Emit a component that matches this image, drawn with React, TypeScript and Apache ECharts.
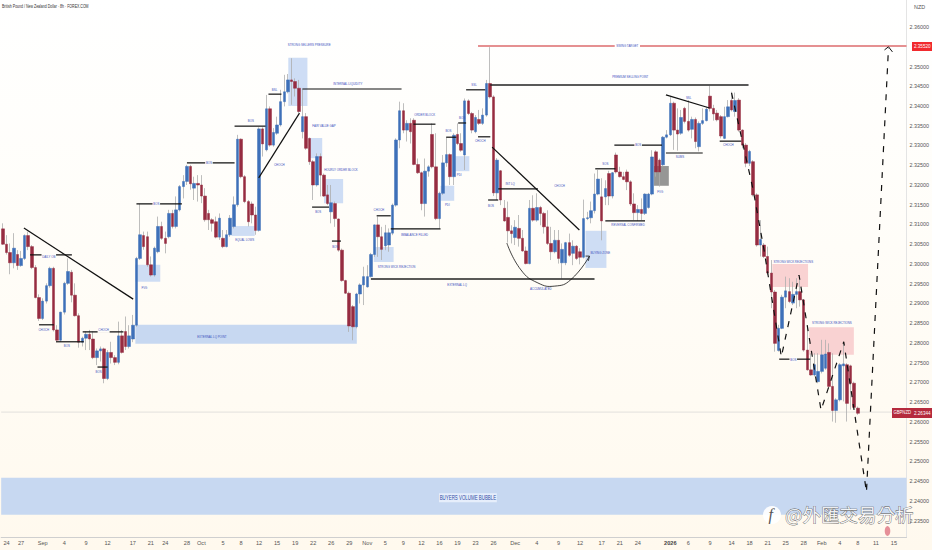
import React, { useEffect, useRef } from "react";
import * as echarts from "echarts";

const FONT = '"Liberation Sans Narrow","Liberation Sans",sans-serif';
const SLOT_COUNT = 251;

// [open, close, low, high], one step per slot
const candles: number[][] = [
[2.3089,2.3050,2.3048,2.3103],[2.3050,2.3029,2.3024,2.3073],[2.3029,2.3003,2.2974,2.3052],[2.3003,2.3040,2.2989,2.3078],
[2.3024,2.2996,2.2985,2.3035],[2.2996,2.3014,2.2993,2.3033],[2.3014,2.3072,2.3010,2.3075],[2.3072,2.3044,2.3035,2.3082],
[2.3044,2.2991,2.2987,2.3048],[2.2991,2.2915,2.2913,2.2997],[2.2915,2.2862,2.2856,2.2923],[2.2862,2.2906,2.2858,2.2913],
[2.2906,2.2945,2.2900,2.2951],[2.2945,2.2989,2.2940,2.2993],[2.2989,2.2833,2.2829,2.2993],[2.2833,2.2807,2.2805,2.2845],
[2.2807,2.2878,2.2803,2.2879],[2.2878,2.2951,2.2872,2.2955],[2.2951,2.2981,2.2947,2.3014],[2.2979,2.2921,2.2903,2.2985],
[2.2921,2.2869,2.2867,2.2951],[2.2869,2.2802,2.2788,2.2875],[2.2802,2.2812,2.2791,2.2816],[2.2812,2.2822,2.2782,2.2829],
[2.2822,2.2810,2.2782,2.2833],[2.2810,2.2763,2.2759,2.2829],[2.2763,2.2780,2.2744,2.2786],[2.2780,2.2785,2.2753,2.2791],
[2.2785,2.2710,2.2698,2.2788],[2.2710,2.2776,2.2706,2.2782],[2.2776,2.2763,2.2748,2.2803],[2.2763,2.2751,2.2744,2.2769],
[2.2751,2.2818,2.2746,2.2854],[2.2818,2.2776,2.2773,2.2833],[2.2829,2.2791,2.2782,2.2867],[2.2791,2.2818,2.2786,2.2845],
[2.2810,2.2845,2.2802,2.2871],[2.2845,2.3014,2.2841,2.3018],[2.3014,2.3074,2.3010,2.3152],[2.3072,2.3044,2.3036,2.3082],
[2.3069,2.2998,2.2993,2.3082],[2.2998,2.2972,2.2968,2.3019],[2.2972,2.3040,2.2968,2.3044],[2.3031,2.3095,2.3027,2.3120],
[2.3095,2.3065,2.3061,2.3107],[2.3065,2.3052,2.3027,2.3082],[2.3069,2.3128,2.3065,2.3137],[2.3128,2.3095,2.3090,2.3137],
[2.3095,2.3137,2.3090,2.3171],[2.3137,2.3196,2.3133,2.3200],[2.3196,2.3209,2.3166,2.3225],[2.3209,2.3247,2.3200,2.3251],
[2.3247,2.3203,2.3188,2.3251],[2.3192,2.3204,2.3162,2.3221],[2.3204,2.3200,2.3158,2.3225],[2.3200,2.3172,2.3154,2.3225],
[2.3172,2.3112,2.3107,2.3192],[2.3128,2.3112,2.3086,2.3137],[2.3112,2.3103,2.3082,2.3116],[2.3107,2.3068,2.3065,2.3120],
[2.3068,2.3116,2.3061,2.3128],[2.3065,2.3044,2.3040,2.3086],[2.3044,2.3074,2.3042,2.3086],[2.3074,2.3116,2.3069,2.3124],
[2.3095,2.3150,2.3090,2.3171],[2.3150,2.3316,2.3145,2.3327],[2.3316,2.3221,2.3217,2.3318],[2.3221,2.3158,2.3154,2.3225],
[2.3158,2.3107,2.3095,2.3162],[2.3152,2.3124,2.3103,2.3158],[2.3124,2.3085,2.3074,2.3145],[2.3085,2.3342,2.3082,2.3346],
[2.3342,2.3304,2.3272,2.3346],[2.3289,2.3393,2.3285,2.3428],[2.3393,2.3301,2.3297,2.3399],[2.3301,2.3333,2.3297,2.3344],
[2.3331,2.3352,2.3327,2.3373],[2.3352,2.3411,2.3348,2.3441],[2.3411,2.3436,2.3399,2.3479],[2.3436,2.3466,2.3432,2.3481],
[2.3466,2.3462,2.3403,2.3521],[2.3462,2.3445,2.3424,2.3470],[2.3445,2.3386,2.3382,2.3466],[2.3335,2.3373,2.3318,2.3442],
[2.3373,2.3293,2.3289,2.3382],[2.3318,2.3259,2.3251,2.3320],[2.3259,2.3200,2.3162,2.3263],[2.3200,2.3272,2.3196,2.3280],
[2.3272,2.3225,2.3171,2.3280],[2.3225,2.3172,2.3170,2.3229],[2.3175,2.3153,2.3149,2.3200],[2.3132,2.3155,2.3103,2.3200],
[2.3153,2.3115,2.3094,2.3158],[2.3114,2.3035,2.3031,2.3115],[2.3035,2.2958,2.2955,2.3039],[2.2958,2.2926,2.2924,2.2960],
[2.2926,2.2843,2.2828,2.2930],[2.2892,2.2841,2.2807,2.2896],[2.2841,2.2924,2.2837,2.2927],[2.2924,2.2947,2.2900,2.2951],
[2.2947,2.2968,2.2896,2.2993],[2.2942,2.2968,2.2940,2.2997],[2.2968,2.3024,2.2966,2.3028],[2.3024,2.3099,2.3018,2.3100],
[2.3099,2.3069,2.3018,2.3120],[2.3069,2.3037,2.3010,2.3094],[2.3046,2.3079,2.3035,2.3099],[2.3048,2.3079,2.3031,2.3090],
[2.3078,2.3149,2.3073,2.3153],[2.3149,2.3314,2.3145,2.3318],[2.3314,2.3388,2.3293,2.3411],[2.3388,2.3339,2.3331,2.3407],
[2.3339,2.3356,2.3310,2.3364],[2.3356,2.3335,2.3305,2.3369],[2.3364,2.3252,2.3250,2.3369],[2.3252,2.3231,2.3228,2.3267],
[2.3231,2.3153,2.3136,2.3234],[2.3153,2.3235,2.3120,2.3267],[2.3235,2.3246,2.3221,2.3250],[2.3328,2.3246,2.3242,2.3356],
[2.3246,2.3115,2.3111,2.3331],[2.3115,2.3179,2.3090,2.3183],[2.3179,2.3256,2.3175,2.3276],[2.3256,2.3277,2.3246,2.3322],
[2.3277,2.3221,2.3200,2.3280],[2.3221,2.3326,2.3200,2.3331],[2.3328,2.3305,2.3301,2.3356],[2.3305,2.3288,2.3284,2.3331],
[2.3276,2.3413,2.3238,2.3419],[2.3413,2.3381,2.3377,2.3417],[2.3381,2.3339,2.3331,2.3385],[2.3335,2.3371,2.3331,2.3377],
[2.3366,2.3356,2.3352,2.3390],[2.3356,2.3377,2.3352,2.3394],[2.3377,2.3457,2.3373,2.3466],[2.3457,2.3423,2.3419,2.3549],
[2.3423,2.3180,2.3172,2.3427],[2.3180,2.3263,2.3162,2.3268],[2.3236,2.3162,2.3149,2.3238],[2.3141,2.3109,2.3107,2.3162],
[2.3118,2.3084,2.3054,2.3158],[2.3084,2.3077,2.3052,2.3098],[2.3067,2.3093,2.3048,2.3111],[2.3090,2.3065,2.3044,2.3124],
[2.3065,2.3033,2.3031,2.3086],[2.3033,2.3001,2.2999,2.3044],[2.3001,2.3141,2.2999,2.3162],[2.3141,2.3111,2.3107,2.3174],
[2.3111,2.3143,2.3107,2.3179],[2.3143,2.3128,2.3098,2.3147],[2.3128,2.3094,2.3077,2.3132],[2.3094,2.3052,2.3048,2.3136],
[2.3052,2.3031,2.3010,2.3094],[2.3031,2.3060,2.3027,2.3086],[2.3060,2.3014,2.3001,2.3086],[2.3003,2.3037,2.2963,2.3052],
[2.3003,2.3054,2.2997,2.3056],[2.3054,2.3022,2.3018,2.3077],[2.3027,2.3045,2.2997,2.3060],[2.3045,2.3014,2.3010,2.3048],
[2.3031,2.3017,2.2999,2.3040],[2.3017,2.3115,2.3014,2.3163],[2.3115,2.3117,2.3111,2.3132],[2.3117,2.3135,2.3103,2.3158],
[2.3135,2.3177,2.3128,2.3229],[2.3177,2.3215,2.3174,2.3238],[2.3170,2.3109,2.3060,2.3217],[2.3170,2.3191,2.3149,2.3212],
[2.3229,2.3172,2.3149,2.3236],[2.3172,2.3231,2.3166,2.3233],[2.3276,2.3233,2.3229,2.3282],[2.3233,2.3221,2.3219,2.3246],
[2.3221,2.3214,2.3212,2.3233],[2.3233,2.3208,2.3187,2.3239],[2.3208,2.3152,2.3147,2.3212],[2.3152,2.3130,2.3111,2.3179],
[2.3130,2.3138,2.3109,2.3149],[2.3138,2.3128,2.3111,2.3166],[2.3128,2.3177,2.3124,2.3179],[2.3143,2.3177,2.3140,2.3180],
[2.3177,2.3271,2.3174,2.3288],[2.3284,2.3233,2.3221,2.3288],[2.3263,2.3233,2.3196,2.3267],[2.3251,2.3321,2.3247,2.3324],
[2.3321,2.3327,2.3318,2.3339],[2.3327,2.3407,2.3324,2.3424],[2.3407,2.3339,2.3289,2.3411],[2.3339,2.3329,2.3287,2.3394],
[2.3331,2.3371,2.3327,2.3390],[2.3394,2.3361,2.3356,2.3398],[2.3361,2.3339,2.3335,2.3415],[2.3341,2.3366,2.3318,2.3373],
[2.3366,2.3310,2.3293,2.3371],[2.3297,2.3356,2.3285,2.3361],[2.3356,2.3363,2.3352,2.3394],[2.3363,2.3392,2.3361,2.3398],
[2.3425,2.3394,2.3386,2.3451],[2.3394,2.3380,2.3363,2.3403],[2.3382,2.3365,2.3361,2.3390],[2.3373,2.3324,2.3318,2.3377],
[2.3318,2.3373,2.3316,2.3398],[2.3373,2.3398,2.3371,2.3415],[2.3414,2.3390,2.3386,2.3436],[2.3386,2.3414,2.3373,2.3434],
[2.3415,2.3339,2.3335,2.3420],[2.3339,2.3301,2.3293,2.3341],[2.3301,2.3255,2.3245,2.3306],[2.3255,2.3285,2.3248,2.3289],
[2.3259,2.3175,2.3171,2.3263],[2.3175,2.3048,2.3044,2.3179],[2.3048,2.3062,2.3019,2.3111],[2.3048,2.3019,2.3015,2.3053],
[2.3019,2.2977,2.2972,2.3044],[2.2977,2.2929,2.2888,2.3010],[2.2929,2.2799,2.2778,2.2934],[2.2781,2.2837,2.2778,2.2846],
[2.2837,2.2916,2.2835,2.2922],[2.2916,2.2932,2.2888,2.2968],[2.2930,2.2905,2.2901,2.2964],[2.2901,2.2923,2.2896,2.2955],
[2.2923,2.2930,2.2888,2.2964],[2.2930,2.2909,2.2892,2.2960],[2.2909,2.2782,2.2778,2.2911],[2.2782,2.2732,2.2730,2.2840],
[2.2732,2.2719,2.2717,2.2774],[2.2719,2.2745,2.2715,2.2774],[2.2702,2.2728,2.2698,2.2774],[2.2728,2.2770,2.2723,2.2808],
[2.2736,2.2772,2.2732,2.2808],[2.2776,2.2690,2.2685,2.2799],[2.2690,2.2629,2.2601,2.2774],[2.2629,2.2656,2.2598,2.2660],
[2.2656,2.2745,2.2652,2.2749],[2.2742,2.2747,2.2652,2.2799],[2.2745,2.2647,2.2601,2.2749],[2.2742,2.2698,2.2631,2.2745],
[2.2698,2.2637,2.2635,2.2702],[2.2635,2.2622,2.2618,2.2639],
];

// slot index → date label on the time axis
const timeLabels: [number, string][] = [
[1,"24"],[5,"27"],[11,"Sep"],[17,"4"],[23,"9"],[29,"12"],[36,"17"],[41,"21"],[45,"24"],[51,"28"],[55,"Oct"],[61,"5"],[66,"8"],[71,"12"],[76,"15"],[81,"19"],
[86,"22"],[91,"26"],[96,"29"],[101,"Nov"],[106,"5"],[111,"9"],[116,"12"],[121,"16"],[126,"19"],[131,"23"],[136,"26"],[142,"Dec"],[148,"4"],[154,"9"],[160,"12"],[166,"17"],
[171,"21"],[176,"24"],[185,"2026"],[190,"6"],[196,"9"],[202,"14"],[207,"18"],[212,"21"],[217,"25"],[222,"28"],[227,"Feb"],[232,"4"],[237,"8"],[242,"11"],[247,"15"],
];
const priceTicks = [2.36,2.35,2.345,2.34,2.335,2.33,2.325,2.32,2.315,2.31,2.305,2.3,2.295,2.29,2.285,2.28,2.275,2.27,2.265,2.26,2.255,2.25,2.245,2.24,2.235];

// [fromSlot, toSlot, topPrice, bottomPrice]
const blueZones = [
[-0.5,250.5,2.2459,2.2365],[36.7,98.1,2.2846,2.2798],
];
const paleZones = [
[36.7,43.6,2.2998,2.2955],[63.4,69.8,2.3096,2.3071],[79.1,84.4,2.3522,2.34],[84.9,88.5,2.3319,2.3268],[89,94.3,2.3215,2.3154],
[102.8,108.3,2.3043,2.3005],[121.3,125.1,2.3198,2.316],[125.4,129.3,2.3273,2.3235],[161.5,167.3,2.3084,2.299],
];
const grayZones = [[180.5,184.6,2.3248,2.3198]];
const pinkZones = [[213.3,223.2,2.3,2.2942],[223.5,235.9,2.284,2.277]];

// [fromSlot, fromPrice, toSlot, toPrice]
const structureLines = [
[5.8,2.3091,36.1,2.2911],[7.5,2.3023,19.1,2.3023],[10,2.2846,14.1,2.2846],[14.7,2.2803,22.4,2.2803],[22.1,2.2828,33.4,2.2828],[26.2,2.2739,29,2.2739],
[37,2.3152,49.6,2.3152],[51,2.3256,64.2,2.3256],[64.2,2.3349,72.8,2.3349],[73.6,2.343,77.2,2.343],[70.9,2.3218,82.2,2.3382],[83,2.3443,110.5,2.3443],
[85.7,2.3144,90.4,2.3144],[91.2,2.3058,93.7,2.3058],[103.6,2.3122,107.5,2.3122],[107.5,2.3089,121.3,2.3089],[113.8,2.3354,119.9,2.3354],[122.9,2.3321,125.7,2.3321],
[126.2,2.3357,128.4,2.3357],[128.4,2.3441,133.7,2.3441],[131.7,2.3322,135.1,2.3322],[134.5,2.3162,137.3,2.3162],[135.6,2.3296,159.8,2.3086],[137.3,2.319,148.3,2.319],
[164.2,2.3241,169.8,2.3241],[167,2.3109,178,2.3109],[169.5,2.3301,182.7,2.3301],[183.8,2.3428,195.9,2.3395],[183.8,2.3281,194,2.3281],[198.7,2.3311,204.7,2.3311],[215.2,2.2759,223.8,2.2759],
];
const majorLines = [[135.1,2.3453,206.7,2.3453],[102,2.2962,164,2.2962]];
const targetLines = [[131.7,2.3552,169.6,2.3552],[176.6,2.3552,250.5,2.3552]];
const lastPriceLine = [-0.5,2.2625,250.5,2.2625];

// [slot, price]
const projectionPath = [[202,2.3433],[208,2.3187],[211,2.3035],[213,2.2922],[215.8,2.2765],[220.7,2.2972],[226.8,2.263],[233.1,2.2803],[239.4,2.2423],[245.5,2.3547]];
const projectionArrow = [[244.4,2.3542],[245.5,2.355],[246.6,2.3537]];
const accumulationCurve = [[139.7,2.3053],[143.6,2.2985],[148.3,2.2952],[153,2.2944],[157.4,2.296],[162.6,2.302]];
const accumulationArrow = [[161.5,2.302],[162.6,2.302],[162.3,2.3008]];

// [slot, price, text]
const notes: [number, number, string][] = [
[11.3,2.2833,"CHOCH"],[17.7,2.2792,"BOS"],[26.5,2.2727,"BOS"],[39.2,2.2939,"FVG"],
[68.7,2.3362,"BOS"],[75.3,2.3441,"BSL"],[67,2.3061,"EQUAL LOWS"],[76.6,2.3251,"CHOCH"],[84.9,2.3554,"STRONG SELLERS PRESSURE"],[95.6,2.3456,"INTERNAL LIQUIDITY"],
[89,2.3349,"FAIR VALUE GAP"],[93.7,2.3238,"HOURLY ORDER BLOCK"],[87.4,2.3132,"BOS"],[92.1,2.3043,"BOS"],[104.2,2.3137,"CHOCH"],[116.9,2.3377,"ORDER BLOCK"],
[114.1,2.3073,"IMBALANCE FILLED"],[109.1,2.2992,"STRONG WICK REJECTION"],[123.5,2.3337,"BOS"],[127.3,2.337,"BOS"],[130.6,2.3453,"SSL"],[132.3,2.3311,"CHOCH"],
[123.2,2.3149,"PDI"],[126.5,2.3225,"PDI"],[135.3,2.3147,"BOS"],[140.6,2.3203,"INT LQ"],[154.3,2.3198,"CHOCH"],[165.6,2.3028,"BUYING ZONE"],[167,2.3253,"SOS"],
[173.3,2.3099,"REVERSAL CONFIRMED"],[125.9,2.2947,"EXTERNAL LQ"],[149.1,2.2937,"ACCUMULATED"],[57.9,2.2815,"EXTERNAL LQ POINT"],[182.2,2.3182,"FVG"],
[173.9,2.3473,"PREMIUM SELLING POINT"],[173.1,2.3552,"SWING TARGET"],[190.1,2.342,"SSL"],[187.7,2.3271,"SUMS"],[201.1,2.3301,"CHOCH"],
[219.1,2.3005,"STRONG WICK REJECTIONS"],[229.8,2.2851,"STRONG WICK REJECTIONS"],
];
// notes that sit on a line and interrupt it
const inlineNotes: [number, number, string][] = [
[12.7,2.3018,"DAILY OB"],[27.9,2.2833,"CHOCH"],[42.5,2.3152,"BOS"],[57.1,2.3256,"BOS"],[176.1,2.3301,"BOS"],[219.1,2.2757,"BOS"],
];
const bubbleNote: [number, number, string] = [128.9,2.2408,"BUYERS VOLUME BUBBLE"];

const categories = Array.from({ length: SLOT_COUNT }, (_, i) => {
  const hit = timeLabels.find((t) => t[0] === i);
  return hit ? hit[1] : "";
});

function zoneSeries(zones: number[][], color: string, z: number) {
  return {
    type: "custom", xAxisIndex: 1, yAxisIndex: 0, z, silent: true,
    data: zones, encode: { x: [0, 1], y: [2, 3] },
    renderItem: (p: any, api: any) => {
      const d = zones[p.dataIndex];
      const a = api.coord([d[0], d[2]]);
      const b = api.coord([d[1], d[3]]);
      return { type: "rect", shape: { x: a[0], y: a[1], width: b[0] - a[0], height: b[1] - a[1] }, style: { fill: color } };
    },
  };
}
function lineSeries(lines: number[][], color: string, width: number, z: number) {
  return {
    type: "custom", xAxisIndex: 1, yAxisIndex: 0, z, silent: true,
    data: lines, encode: { x: [0, 2], y: [1, 3] },
    renderItem: (p: any, api: any) => {
      const d = lines[p.dataIndex];
      const a = api.coord([d[0], d[1]]);
      const b = api.coord([d[2], d[3]]);
      return { type: "line", shape: { x1: a[0], y1: a[1], x2: b[0], y2: b[1] }, style: { stroke: color, lineWidth: width } };
    },
  };
}
function pathSeries(points: number[][], width: number, dash: number[] | null, smooth: number, z: number) {
  return {
    type: "custom", xAxisIndex: 1, yAxisIndex: 0, z, silent: true,
    data: [points[0]], encode: { x: 0, y: 1 },
    renderItem: (_: any, api: any) => ({
      type: "polyline",
      shape: { points: points.map((q) => api.coord(q)), smooth },
      style: { fill: "none", stroke: "#111111", lineWidth: width, lineDash: dash || undefined },
    }),
  };
}
function noteSeries(items: [number, number, string][], size: number, squeeze: number, color: string, bg: string | null, z: number) {
  return {
    type: "custom", xAxisIndex: 1, yAxisIndex: 0, z, silent: true,
    data: items.map((n) => [n[0], n[1]]), encode: { x: 0, y: 1 },
    renderItem: (p: any, api: any) => {
      const n = items[p.dataIndex];
      const c = api.coord([n[0], n[1]]);
      return {
        type: "text", x: c[0], y: c[1], scaleX: squeeze,
        style: { text: n[2], fill: color, fontFamily: FONT, fontSize: size, align: "center", verticalAlign: "middle",
          backgroundColor: bg || undefined, padding: bg ? [1, 1] : 0 },
      };
    },
  };
}

export default function App() {
  const ref = useRef<HTMLDivElement>(null);
  useEffect(() => {
    document.body.style.margin = "0";
    const chart = echarts.init(ref.current!, undefined, { renderer: "svg" });
    const bodies = candles.map((c) => [c[0], c[1], Math.min(c[0], c[1]), Math.max(c[0], c[1])]);
    chart.setOption({
      animation: false,
      grid: { left: 0, right: 21, top: 0, bottom: 13 },
      xAxis: [
        { type: "category", data: categories, boundaryGap: true, position: "bottom",
          axisLine: { onZero: false, lineStyle: { color: "#cfcfcf", width: 1 } }, axisTick: { show: false }, splitLine: { show: false },
          axisLabel: { interval: 0, margin: 3, color: "#555", fontFamily: FONT, fontSize: 5.6, hideOverlap: false,
            formatter: (v: string) => (v === "2026" ? "{b|2026}" : v), rich: { b: { fontWeight: "bold", fontSize: 5.6, fontFamily: FONT, color: "#444" } } } },
        { type: "value", min: -0.5, max: 250.5, show: false },
      ],
      yAxis: [{
        type: "value", position: "right", min: 2.23087, max: 2.36684,
        axisLine: { show: true, onZero: false, lineStyle: { color: "#e4e4e4" } }, axisTick: { show: false }, splitLine: { show: false },
        axisLabel: { customValues: priceTicks, margin: 3, color: "#555", fontFamily: FONT, fontSize: 5.4, formatter: (v: number) => v.toFixed(5) },
      }],
      series: [
        zoneSeries(blueZones, "#c7d8f1", 1),
        zoneSeries(paleZones, "rgba(198,215,243,0.85)", 1),
        zoneSeries(grayZones, "rgba(115,115,115,0.75)", 1),
        zoneSeries(pinkZones, "#f9d2d2", 1),
        lineSeries([lastPriceLine], "#e2e0dc", 1, 2),
        { name: "wicks", type: "candlestick", xAxisIndex: 0, yAxisIndex: 0, z: 3, barWidth: 1, silent: true, data: candles,
          itemStyle: { color: "#adadad", color0: "#adadad", borderColor: "#adadad", borderColor0: "#adadad", borderWidth: 0.8 } },
        { name: "bodies", type: "candlestick", xAxisIndex: 0, yAxisIndex: 0, z: 4, barWidth: 3, silent: true, data: bodies,
          itemStyle: { color: "#3e70b9", color0: "#962c41", borderColor: "#3e70b9", borderColor0: "#962c41", borderWidth: 0.5 } },
        lineSeries(structureLines, "#111111", 1.2, 5),
        lineSeries(majorLines, "#222222", 1.5, 5),
        lineSeries(targetLines, "#dd6b6d", 1.5, 5),
        pathSeries(projectionPath, 1.2, [6, 7], 0, 6),
        pathSeries(projectionArrow, 1, null, 0, 6),
        pathSeries(accumulationCurve, 0.8, null, 0.5, 6),
        pathSeries(accumulationArrow, 0.8, null, 0, 6),
        noteSeries(inlineNotes, 3.9, 0.74, "#3a50bd", "#fffdf8", 7),
        noteSeries(notes, 3.9, 0.74, "#3a50bd", null, 7),
        noteSeries([bubbleNote], 7, 0.63, "#2c4aa5", "#e6eefb", 7),
      ],
      graphic: [
        { type: "text", x: 2, y: 4, z: 20, scaleX: 0.77, style: { text: "British Pound / New Zealand Dollar · 8h · FOREX.COM", fontFamily: FONT, fontSize: 4.6, fill: "#333" } },
        { type: "text", x: 914, y: 4, z: 20, style: { text: "NZD", fontFamily: FONT, fontSize: 5.4, fill: "#555" } },
        { type: "rect", z: 20, shape: { x: 912, y: 42, width: 20, height: 9 }, style: { fill: "#f12a2e" } },
        { type: "text", z: 21, x: 914, y: 43.5, scaleX: 0.85, style: { text: "2.35520", fontFamily: FONT, fontSize: 5.4, fill: "#fff" } },
        { type: "rect", z: 20, shape: { x: 892, y: 408, width: 40, height: 10 }, style: { fill: "#b52a3d" } },
        { type: "text", z: 21, x: 893.5, y: 410, scaleX: 0.78, style: { text: "GBPNZD", fontFamily: FONT, fontSize: 5.4, fill: "#fff" } },
        { type: "text", z: 21, x: 914, y: 410, scaleX: 0.85, style: { text: "2.26344", fontFamily: FONT, fontSize: 5.4, fill: "#fff" } },
        { type: "ellipse", z: 20, shape: { cx: 887.5, cy: 531, rx: 2.8, ry: 5 }, style: { fill: "#e58f98" } },
        { type: "circle", z: 22, shape: { cx: 772, cy: 515, r: 9 }, style: { fill: "rgba(255,255,255,0.92)" } },
        { type: "text", z: 23, x: 768.5, y: 506, style: { text: "f", fontFamily: '"Liberation Serif",serif', fontSize: 16, fontStyle: "italic", fill: "#555" } },
        { type: "text", z: 23, x: 785, y: 505, style: { text: "@外匯交易分析", fontFamily: '"Noto Sans CJK TC",sans-serif', fontSize: 18.5,
          fill: "rgba(255,255,255,0.85)", stroke: "#555", lineWidth: 0.7 } },
      ],
    });
    return () => chart.dispose();
  }, []);
  return (
    <div
      ref={ref}
      style={{ position: "absolute", left: 0, top: 0, width: 932, height: 550,
        background: "linear-gradient(180deg,#ffffff 0%,#fffdf8 45%,#fff9ee 100%)" }}
    />
  );
}
